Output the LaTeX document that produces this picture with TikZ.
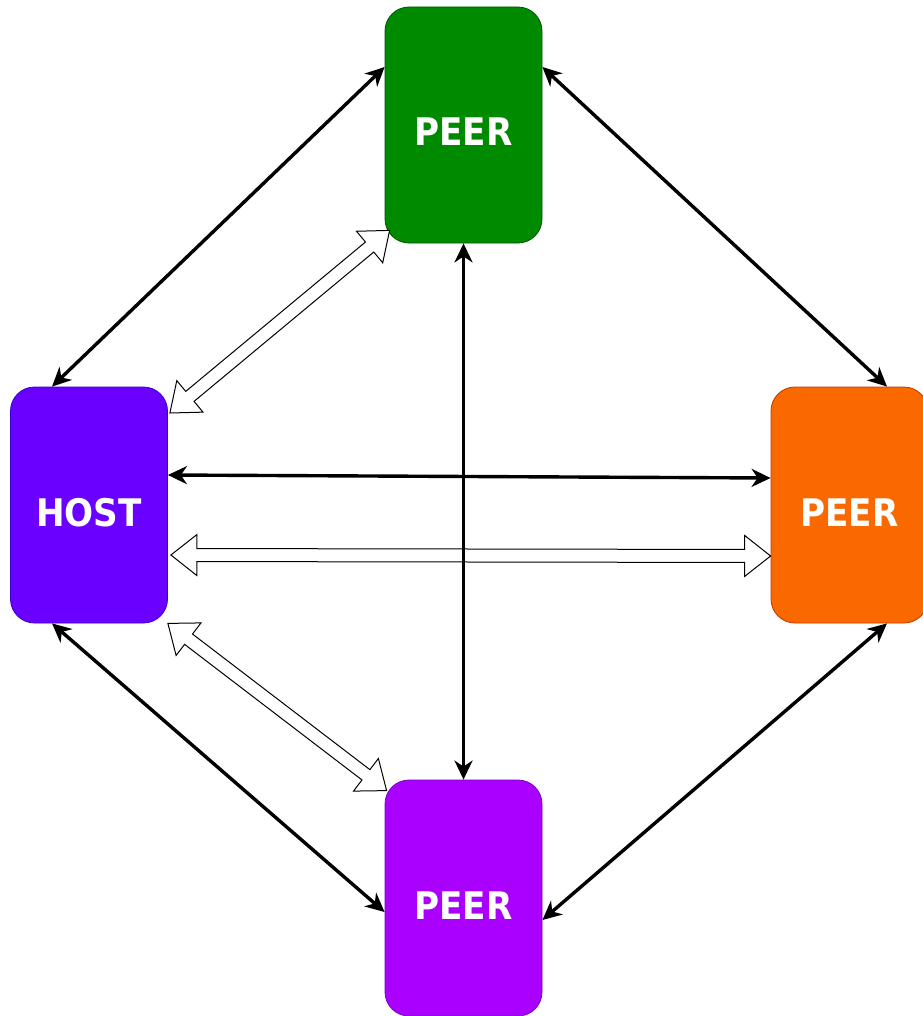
\documentclass[tikz,border=0pt]{standalone}
\usepackage{fontspec}
\usetikzlibrary{arrows.meta,calc}

\newfontfamily\boxfont{DejaVu Sans Condensed}

\definecolor{peergreen}{HTML}{008A00}
\definecolor{peergreenline}{HTML}{005700}
\definecolor{hostviolet}{HTML}{6A00FF}
\definecolor{hostvioletline}{HTML}{3700CC}
\definecolor{peerorange}{HTML}{FA6800}
\definecolor{peerorangeline}{HTML}{C73500}
\definecolor{peerpurple}{HTML}{AA00FF}
\definecolor{peerpurpleline}{HTML}{7700CC}

\tikzset{
  box/.style={rounded corners=24pt, minimum width=157pt, minimum height=236pt,
    inner sep=0pt, line width=0.8pt, text=white, text height=42pt, text depth=0pt,
    font=\boxfont\bfseries\fontsize{38}{40}\selectfont},
  link/.style={line width=3.4pt,
    {Stealth[length=19pt,width=18pt,inset=6pt]}-{Stealth[length=19pt,width=18pt,inset=6pt]}},
  flex/.style={draw=black, fill=white, line width=1pt, line join=miter}
}

% hollow double headed block arrow
\def\fhead{26pt}
\def\fwide{20.5pt}
\def\fshaft{6.5pt}
\newcommand{\flexarrow}[2]{%
  \draw[flex] (#1)
    -- ($(#1)!\fhead!(#2)!\fwide!90:(#2)$)
    -- ($(#1)!\fhead!(#2)!\fshaft!90:(#2)$)
    -- ($(#2)!\fhead!(#1)!\fshaft!-90:(#1)$)
    -- ($(#2)!\fhead!(#1)!\fwide!-90:(#1)$)
    -- (#2)
    -- ($(#2)!\fhead!(#1)!\fwide!90:(#1)$)
    -- ($(#2)!\fhead!(#1)!\fshaft!90:(#1)$)
    -- ($(#1)!\fhead!(#2)!\fshaft!-90:(#2)$)
    -- ($(#1)!\fhead!(#2)!\fwide!-90:(#2)$)
    -- cycle;}

\begin{document}
\begin{tikzpicture}[x=1pt, y=-1pt]

  \useasboundingbox (0,0) rectangle (922,1016);

  % draw the four boxes
  \foreach \name/\x/\y/\col/\txt in {peertop/463.5/125/peergreen/PEER,
      host/89/505/hostviolet/HOST, peerright/849.5/505/peerorange/PEER,
      peerbottom/463.5/898/peerpurple/PEER} {
    \node[box, fill=\col, draw=\col line] (\name) at (\x,\y) {\txt};
  };

  % end points of the hollow arrows
  \coordinate (hosttop)     at ([xshift=2pt,yshift=92pt]host.east);
  \coordinate (hostmid)     at ([xshift=3pt,yshift=-50pt]host.east);
  \coordinate (hostlow)     at (host.south east);
  \coordinate (topcorner)   at ([xshift=5pt,yshift=13pt]peertop.south west);
  \coordinate (rightmid)    at ([yshift=-51pt]peerright.west);
  \coordinate (bottomcorner) at ([xshift=2pt,yshift=-11pt]peerbottom.north west);

  % draw hollow arrows
  \flexarrow{hosttop}{topcorner}
  \flexarrow{hostmid}{rightmid}
  \flexarrow{hostlow}{bottomcorner}

  % draw black links
  \draw[link] ([xshift=-37pt]host.north) -- ([yshift=58pt]peertop.west);
  \draw[link] ([yshift=58pt]peertop.east) -- ([xshift=37.5pt]peerright.north);
  \draw[link] (peertop.south) -- (peerbottom.north);
  \draw[link] ([yshift=30pt]host.east) -- ([yshift=27pt]peerright.west);
  \draw[link] ([xshift=-37pt]host.south) -- ([yshift=-14pt]peerbottom.west);
  \draw[link] ([xshift=37.5pt]peerright.south) -- ([yshift=-22pt]peerbottom.east);

\end{tikzpicture}
\end{document}
